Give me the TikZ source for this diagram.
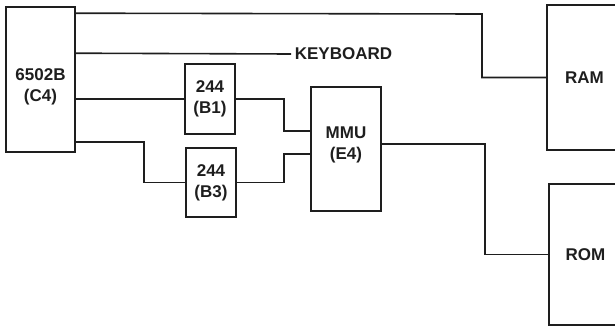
\documentclass[tikz,border=0pt]{standalone}
\usepackage{fontspec}
\setmainfont{Liberation Sans}
\usepackage{tikz}
\usetikzlibrary{positioning,calc}
\definecolor{Ink}{HTML}{1E1E1E}

\begin{document}
\begin{tikzpicture}[x=1pt,y=-1pt,
    chip/.style={draw=Ink,line width=1.6pt,inner sep=0pt,align=center,
      text=Ink,font=\fontsize{17}{21}\selectfont\bfseries},
    wire/.style={draw=Ink,line width=1.6pt}]
    \useasboundingbox (0,0) rectangle (615,327);
    \clip (0,0) rectangle (615,327);
    % chips
    \node[chip,minimum width=69pt,minimum height=145pt] (cpu) at (40.5,79.5) {};
    \node[chip,draw=none] (cputxt) at ([yshift=-7pt]cpu.center) {6502B\\(C4)};
    \node[chip,minimum width=50pt,minimum height=70pt] (b1) at (210,99) {244\\(B1)};
    \node[chip,minimum width=50pt,minimum height=69pt] (b3) at (211,182.5) {244\\(B3)};
    \node[chip,minimum width=70pt,minimum height=124pt] (mmu) at (346,149) {};
    \node[chip,draw=none] (mmutxt) at ([yshift=4pt]mmu.center) {MMU\\(E4)};
    \node[chip,minimum width=75pt,minimum height=145pt] (ram) at (584.5,77.5) {RAM};
    \node[chip,minimum width=73pt,minimum height=141pt] (rom) at (585.5,254.5) {ROM};
    \node[chip,draw=none,anchor=west,inner sep=3pt] (kbd) at (291,54) {KEYBOARD};
    % buses
    \draw[wire] ([yshift=-7pt]cpu.north east) -- (482,14) |- (ram.west);
    \draw[wire] ([yshift=-47pt]cpu.north east) -- (kbd.west);
    \draw[wire] (cpu.east |- b1.west) -- (b1.west);
    \draw[wire] ([yshift=-62.5pt]cpu.east) -- ++(68,0) |- (b3.west);
    \draw[wire] (b1.east) -- ++(48,0) |- ([yshift=18pt]mmu.west);
    \draw[wire] (b3.east) -- ++(47,0) |- ([yshift=-5pt]mmu.west);
    \draw[wire] ([yshift=5pt]mmu.east) -- ++(103,0) |- (rom.west);
\end{tikzpicture}
\end{document}
